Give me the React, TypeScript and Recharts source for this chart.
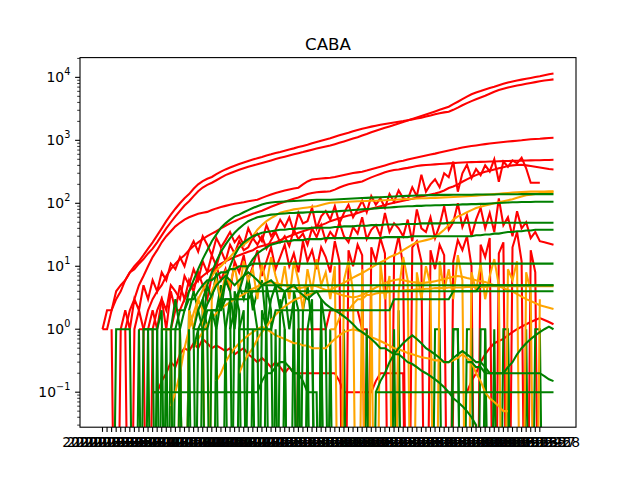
import { LineChart, Line, XAxis, YAxis } from "recharts";

const _ = null;

// one category per day, the axis only labels the first 97
const firstDay = Date.UTC(2020, 2, 24);
const dates = Array.from({ length: 100 }, (unused, i) =>
  new Date(firstDay + i * 86400000).toISOString().slice(0, 10)
);
const tickDates = dates.slice(0, 97);

const majorTicks = [0.1, 1, 10, 100, 1000, 10000];
const minorTicks = [
  0.03, 0.04, 0.05, 0.06, 0.07, 0.08, 0.09,
  0.2, 0.3, 0.4, 0.5, 0.6, 0.7, 0.8, 0.9,
  2, 3, 4, 5, 6, 7, 8, 9,
  20, 30, 40, 50, 60, 70, 80, 90,
  200, 300, 400, 500, 600, 700, 800, 900,
  2000, 3000, 4000, 5000, 6000, 7000, 8000, 9000, 20000,
];

const redCumA = [
  1, 1, 2, 4, 5, 6, 8, 9, 11, 13,
  16, 19, 24, 31, 40, 50, 62, 76, 92, 108,
  130, 155, 178, 196, 212, 232, 255, 280, 300, 320,
  340, 360, 380, 398, 416, 436, 458, 480, 505, 528,
  550, 575, 600, 625, 650, 680, 710, 740, 770, 800,
  830, 870, 915, 960, 1010, 1065, 1120, 1190, 1260, 1340,
  1420, 1500, 1580, 1660, 1750, 1850, 1950, 2060, 2180, 2300,
  2430, 2570, 2720, 2880, 3050, 3230, 3420, 3750, 4100, 4500,
  4950, 5400, 5750, 6050, 6400, 6750, 7100, 7500, 7900, 8300,
  8600, 8900, 9200, 9500, 9800, 10100, 10400, 10800, 11200, 11500,
];
const redCumB = [
  1, 2, 2, 3, 4, 6, 8, 10, 12, 15,
  19, 24, 31, 40, 52, 66, 82, 100, 120, 140,
  170, 200, 225, 245, 262, 290, 318, 345, 370, 395,
  420, 445, 470, 495, 520, 545, 575, 600, 630, 655,
  685, 715, 745, 780, 815, 850, 895, 940, 985, 1030,
  1080, 1140, 1200, 1260, 1320, 1390, 1460, 1530, 1590, 1650,
  1710, 1770, 1820, 1870, 1920, 1970, 2020, 2080, 2150, 2220,
  2280, 2380, 2480, 2600, 2700, 2780, 2850, 3050, 3300, 3600,
  3900, 4200, 4500, 4800, 5100, 5500, 5900, 6300, 6600, 6900,
  7150, 7400, 7650, 7900, 8150, 8400, 8650, 8900, 9100, 9300,
];
const redCumC = [
  _, _, _, _, _, 1, 2, 3, 5, 7,
  10, 14, 18, 24, 30, 36, 43, 49, 55, 60,
  64, 68, 71, 73, 78, 83, 87, 91, 95, 98,
  101, 104, 108, 111, 114, 122, 130, 138, 146, 153,
  160, 166, 172, 177, 200, 222, 238, 243, 247, 251,
  255, 262, 272, 282, 292, 302, 310, 318, 332, 348,
  365, 382, 400, 420, 440, 460, 475, 495, 515, 535,
  555, 575, 595, 615, 640, 665, 690, 715, 740, 770,
  790, 810, 830, 850, 870, 890, 908, 925, 940, 955,
  970, 985, 1000, 1020, 1040, 1050, 1060, 1075, 1090, 1100,
];
const redCumD = [
  _, _, _, _, _, _, _, _, 1, 1,
  2, 3, 4, 5, 7, 9, 11, 13, 15, 18,
  21, 24, 27, 30, 33, 36, 40, 44, 48, 52,
  56, 60, 64, 68, 72, 76, 82, 88, 94, 100,
  106, 112, 118, 124, 132, 140, 146, 150, 152, 153,
  155, 165, 178, 190, 200, 208, 215, 222, 240, 258,
  275, 292, 310, 325, 338, 345, 355, 365, 378, 390,
  400, 405, 410, 415, 420, 425, 430, 435, 440, 445,
  448, 450, 452, 455, 458, 460, 462, 465, 468, 470,
  472, 474, 476, 478, 480, 482, 484, 486, 488, 490,
];
const redRise = [
  _, _, _, _, _, _, _, _, _, _,
  _, _, _, _, 1, 1, 2, 2, 3, 4,
  5, 6, 7, 8, 9, 10, 11, 12, 13, 14,
  15, 16, 17, 18, 20, 21, 22, 23, 24, 26,
  28, 30, 32, 34, 36, 38, 40, 42, 45, 48,
  52, 55, 58, 61, 64, 66, 70, 74, 78, 82,
  86, 90, 94, 98, 102, 106, 110, 114, 118, 123,
  128, 133, 138, 143, 150, 160, 175, 185, 200, 220,
  240, 260, 280, 300, 318, 330, 345, 360, 375, 390,
  400, 405, 410, 400, 390, 380, 370, 360, 350, 345,
];
const redDailyA = [
  _, _, 1, 0, 1, 2, 1, 3, 2, 5,
  3, 6, 4, 8, 6, 11, 9, 14, 10, 18,
  25, 17, 30, 22, 15, 28, 20, 26, 35, 24,
  30, 22, 40, 28, 33, 25, 45, 30, 38, 55,
  42, 60, 35, 70, 48, 52, 85, 40, 62, 75,
  55, 90, 48, 70, 95, 60, 80, 110, 72, 130,
  95, 120, 85, 140, 105, 160, 120, 115, 180, 130,
  285, 153, 200, 240, 180, 300, 260, 460, 153, 300,
  410, 250, 350, 280, 400, 320, 500, 220, 460, 380,
  480, 430, 530, 360, 212, 212, 212, _, _, _,
];
const redDailyB = [
  _, _, _, _, _, _, _, _, _, _,
  1, 2, 1, 3, 2, 5, 4, 3, 7, 5,
  9, 6, 12, 8, 15, 10, 18, 12, 22, 16,
  25, 18, 20, 28, 22, 30, 19, 26, 35, 24,
  30, 21, 38, 27, 33, 22, 40, 29, 45, 25,
  35, 28, 50, 30, 24, 42, 33, 60, 27, 38,
  45, 30, 70, 35, 48, 40, 30, 55, 25, 80,
  40, 35, 60, 28, 45, 90, 38, 50, 100, 42,
  65, 30, 55, 85, 40, 70, 35, 120, 45, 60,
  30, 75, 40, 50, 28, 35, 25, 24, 23, 22,
];
const redDailyC = [
  _, _, _, _, _, 1, 0, 1, 2, 1,
  0, 1, 2, 3, 1, 4, 2, 5, 3, 6,
  4, 8, 5, 3, 7, 10, 6, 9, 4, 12,
  8, 15, 6, 10, 18, 7, 12, 20, 9, 14,
  22, 10, 16, 8, 25, 12, 18, 9, 20, 14,
  8, 25, 12, 0, 18, 10, 22, 15, 0, 20,
  12, 28, 16, 0, 14, 30, 10, 0, 20, 25,
  12, 0, 18, 9, 22, 15, 0, 12, 26, 18,
  30, 10, 0, 22, 14, 28, 0, 16, 24, 0,
  20, 35, 12, 0, 18, 8, 0, _, _, _,
];
const redLowA = [
  _, _, _, _, _, _, _, _, _, _,
  _, 0.1, 0.1, 0.15, 0.2, 0.3, 0.25, 0.4, 0.5, 0.45,
  0.6, 0.5, 0.7, 0.6, 0.5, 0.55, 0.5, 0.45, 0.5, 0.4,
  0.45, 0.5, 0.4, 0.35, 0.3, 0.35, 0.3, 0.25, 0.3, 0.25,
  0.2, 0.25, 0.2, 0.2, 0.2, 0.2, 0.2, 0.2, 0.2, 0.2,
  0.2, 0.2, 0.15, 0.1, 0.1, 0.1, 0.1, 0.1, 0.1, 0.1,
  0.15, 0.2, 0.2, 0.2, 0.2, 0.2, 0.2, 0, 0, 0,
  0, 0, 0, 0, 0, 0, 0, 0.1, 0.1, 0.1,
  0.1, 0.15, 0.2, 0.3, 0.4, 0.5, 0.6, 0.65, 0.7, 0.8,
  0.9, 1.0, 1.1, 1.2, 1.3, 1.4, 1.5, 1.4, 1.3, 1.2,
];
const redLowB = [
  _, _, _, _, _, _, _, _, _, _,
  _, _, _, _, _, _, _, _, _, _,
  _, _, _, _, _, _, _, _, _, _,
  _, _, _, _, _, _, _, _, _, _,
  _, _, 0, 1, 1, 1, 1, 1, 1, 1,
  2, 2, 2, 2, 2, 2, 2, 1, 1, 0,
  0, _, _, _, _, _, _, _, _, _,
  _, _, _, _, _, _, _, _, _, _,
  _, _, _, _, _, _, _, _, _, _,
  _, _, _, _, _, _, _, _, _, _,
];

const orangeCumA = [
  _, _, _, _, _, _, _, _, _, _,
  _, _, _, _, _, 0.06, 0.1, 0.2, 0.5, 1,
  1.8, 3, 4.2, 5.5, 7, 8.7, 10, 12, 14, 17,
  20, 22, 25, 30, 38, 45, 52, 58, 64, 71,
  74, 77, 80, 82, 84, 86, 88, 90, 94, 98,
  102, 103, 104, 105, 106, 107, 108, 108, 109, 110,
  110, 111, 112, 113, 114, 115, 116, 117, 118, 119,
  120, 120, 121, 122, 123, 124, 125, 126, 127, 128,
  130, 131, 132, 134, 136, 138, 140, 142, 144, 146,
  148, 150, 151, 152, 153, 153, 154, 154, 155, 155,
];
const orangeCumB = [
  _, _, _, _, _, _, _, _, _, _,
  _, _, _, _, _, _, _, _, _, _,
  _, _, _, _, _, _, _, _, _, _,
  0.2, 0.3, 0.4, 0.5, 0.7, 0.9, 1.1, 1.4, 1.7, 2,
  2.3, 2.6, 2.9, 3.1, 3.3, 3.5, 3.7, 3.9, 4.0, 4.1,
  4.2, 4.6, 5.0, 5.5, 6.0, 6.6, 7.2, 7.8, 8.6, 9.5,
  10.5, 11.5, 12.5, 14, 15, 16, 18, 20, 22, 24,
  25, 26, 27, 29, 33, 38, 45, 55, 62, 66,
  72, 78, 84, 88, 92, 96, 100, 104, 108, 112,
  116, 122, 128, 134, 137, 140, 145, 148, 150, 152,
];
const orangeCumC = [
  _, _, _, _, _, _, _, _, _, _,
  _, _, _, _, _, _, _, _, _, _,
  _, _, _, _, _, _, _, _, _, _,
  _, _, _, _, _, _, _, _, _, _,
  _, _, _, _, _, _, _, _, _, _,
  1, 1, 1.5, 2, 2, 2.5, 3, 3, 3.5, 3.5,
  3.7, 3.8, 3.8, 3.9, 4, 4, 4.1, 4.2, 4.2, 4.3,
  4.3, 4.4, 4.4, 4.5, 4.5, 4.5, 4.6, 4.6, 4.6, 4.6,
  4.7, 4.7, 4.7, 4.7, 4.7, 4.8, 4.8, 4.8, 4.8, 4.8,
  4.8, 4.8, 4.8, 4.8, 4.8, 4.8, 4.8, 4.8, 4.8, 4.8,
];
const orangeDaily = [
  _, _, _, _, _, _, _, _, _, _,
  _, _, _, 1, 1, 1, 0, 1, 0, 2,
  1, 3, 2, 0, 4, 6, 3, 8, 5, 10,
  4, 12, 6, 9, 3, 11, 5, 14, 7, 4,
  10, 3, 12, 6, 2, 9, 4, 13, 5, 8,
  3, 10, 0, 6, 12, 4, 0, 9, 0, 5,
  0, 11, 3, 7, 0, 4, 14, 6, 0, 8,
  3, 10, 5, 0, 12, 4, 9, 3, 15, 6,
  0, 8, 4, 11, 3, 7, 13, 5, 0, 9,
  6, 12, 0, 8, 4, 0, 3, _, _, _,
];
const orangeAvgA = [
  _, _, _, _, _, _, _, _, _, _,
  _, _, _, _, _, _, _, _, _, _,
  0.5, 0.7, 0.9, 1.2, 1.5, 1.8, 2.1, 2.4, 2.7, 3,
  3.3, 3.6, 4, 4.4, 4.8, 5.2, 5.5, 5.6, 5.4, 5.2,
  5, 4.8, 4.6, 4.5, 4.6, 4.8, 5, 4.8, 4.5, 4.2,
  4, 3.8, 3.6, 3.4, 3.3, 3.2, 3.3, 3.5, 3.8, 4.2,
  4.6, 5, 5.4, 5.8, 6, 6.2, 6, 5.8, 5.6, 5.5,
  5.4, 5.5, 5.6, 5.8, 6, 6.3, 6.5, 6.8, 7, 6.8,
  6.5, 6.3, 6, 5.8, 5.6, 5.3, 5, 4.8, 4.5, 4.2,
  4, 3.6, 3.3, 3, 2.8, 2.6, 2.4, 2.3, 2.2, 2.1,
];
const orangeAvgB = [
  _, _, _, _, _, _, _, _, _, _,
  _, _, _, _, _, _, _, _, _, _,
  _, _, _, _, _, 0.15, 0.2, 0.3, 0.4, 0.5,
  0.6, 0.7, 0.8, 0.9, 1, 1.1, 1.0, 0.9, 0.8, 0.75,
  0.7, 0.65, 0.6, 0.6, 0.55, 0.55, 0.5, 0.5, 0.5, 0.5,
  0.6, 0.7, 0.8, 0.9, 0.95, 1, 0.95, 0.9, 0.8, 0.75,
  0.7, 0.65, 0.6, 0.55, 0.5, 0.48, 0.45, 0.42, 0.4, 0.38,
  0.36, 0.35, 0.34, 0.32, 0.32, 0.3, 0.3, 0.32, 0.35, 0.4,
  0.35, 0.3, 0.2, 0.15, 0.1, 0.08, 0.07, 0.06, 0.05, 0.05,
  _, _, _, _, _, _, _, _, _, _,
];

const greenCumA = [
  _, _, _, _, _, _, _, _, _, _,
  _, _, _, _, _, _, _, 1, 2, 4,
  6, 9, 13, 18, 25, 32, 41, 48, 55, 62,
  66, 72, 78, 84, 90, 96, 100, 103, 105, 106,
  107, 108, 109, 110, 111, 112, 113, 114, 114, 114,
  114, 115, 116, 117, 118, 119, 120, 121, 122, 123,
  124, 125, 126, 127, 128, 129, 130, 131, 132, 133,
  134, 134, 135, 135, 136, 136, 136, 137, 137, 137,
  137, 137, 138, 138, 138, 138, 138, 139, 139, 139,
  139, 139, 140, 140, 140, 140, 140, 140, 140, 140,
];
const greenCumB = [
  _, _, _, _, _, _, _, _, _, _,
  _, _, _, _, _, _, _, _, _, _,
  1, 2, 3, 5, 8, 12, 17, 22, 28, 34,
  40, 46, 52, 56, 60, 62, 64, 66, 67, 68,
  69, 70, 70, 71, 71, 72, 72, 73, 73, 73,
  73, 74, 75, 76, 77, 78, 79, 80, 81, 82,
  83, 84, 85, 86, 87, 88, 89, 90, 90, 91,
  91, 92, 92, 93, 93, 94, 94, 95, 95, 96,
  96, 97, 97, 98, 98, 99, 100, 101, 102, 103,
  104, 104, 105, 105, 105, 106, 106, 106, 106, 106,
];
const greenCumC = [
  _, _, _, _, _, _, _, _, _, _,
  _, _, _, _, _, _, _, _, _, _,
  _, _, _, _, _, 1, 3, 6, 10, 15,
  20, 24, 27, 30, 32, 34, 35, 36, 37, 38,
  38, 39, 39, 40, 40, 40, 41, 41, 41, 41,
  41, 42, 42, 43, 43, 43, 44, 44, 44, 45,
  45, 45, 46, 46, 46, 46, 47, 47, 47, 47,
  48, 48, 48, 48, 48, 48, 49, 49, 49, 49,
  49, 49, 49, 49, 49, 49, 49, 49, 49, 49,
  49, 49, 49, 49, 49, 49, 49, 49, 49, 49,
];
const greenCumD = [
  _, _, _, _, _, _, _, _, _, _,
  _, _, _, _, _, _, _, _, _, _,
  _, _, _, _, _, _, _, _, 1, 2,
  4, 7, 10, 13, 16, 18, 20, 22, 23, 24,
  25, 25, 26, 26, 26, 27, 27, 27, 27, 28,
  28, 28, 28, 28, 28, 28, 28, 28, 28, 28,
  28, 28, 29, 29, 29, 29, 29, 29, 30, 30,
  30, 30, 30, 30, 30, 30, 30, 30, 30, 30,
  30, 30, 31, 31, 32, 32, 33, 33, 34, 35,
  35, 36, 36, 37, 37, 38, 38, 38, 38, 38,
];
const greenCumE = [
  _, _, _, _, _, _, _, _, _, _,
  _, _, _, _, _, 1, 1, 2, 2, 3,
  3, 4, 5, 6, 6, 7, 8, 8, 9, 9,
  10, 10, 10, 11, 11, 11, 11, 11, 11, 11,
  11, 11, 11, 11, 11, 11, 11, 11, 11, 11,
  11, 11, 11, 11, 11, 11, 11, 11, 11, 11,
  11, 11, 11, 11, 11, 11, 11, 11, 11, 11,
  11, 11, 11, 11, 11, 11, 11, 11, 11, 11,
  11, 11, 11, 11, 11, 11, 11, 11, 11, 11,
  11, 11, 11, 11, 11, 11, 11, 11, 11, 11,
];
const greenCumF = [
  _, _, _, _, _, _, _, _, _, _,
  _, _, _, _, _, _, _, _, _, _,
  1, 1, 1, 2, 2, 2, 3, 3, 3, 3,
  4, 4, 4, 4, 4, 5, 5, 5, 5, 5,
  5, 5, 5, 5, 5, 5, 5, 5, 5, 5,
  5, 5, 5, 5, 5, 5, 5, 5, 5, 5,
  5, 5, 5, 5, 5, 5, 5, 5, 5, 5,
  5, 5, 5, 5, 5, 5, 5, 5, 5, 5,
  5, 5, 5, 5, 5, 5, 5, 5, 5, 5,
  5, 5, 5, 5, 5, 5, 5, 5, 5, 5,
];
const greenCumG = [
  _, _, _, _, _, _, _, _, _, _,
  _, _, _, _, _, _, _, _, _, _,
  _, _, 1, 1, 2, 2, 2, 3, 3, 3,
  3, 3, 3, 4, 4, 4, 4, 4, 4, 4,
  4, 4, 4, 4, 4, 4, 4, 4, 4, 4,
  4, 4, 4, 4, 4, 4, 4, 4, 4, 4,
  4, 4, 4, 4, 4, 4, 4, 4, 4, 4,
  4, 4, 4, 4, 4, 4, 4, 4, 4, 4,
  4, 4, 4, 5, 5, 5, 5, 5, 5, 5,
  5, 5, 5, 5, 5, 5, 5, 5, 5, 5,
];
const greenCumH = [
  _, _, _, _, _, _, _, _, _, _,
  _, _, _, _, _, _, _, _, _, _,
  _, _, _, _, _, _, _, _, _, _,
  1, 1, 1, 1, 1, 1, 1, 1, 2, 2,
  2, 2, 2, 2, 2, 2, 2, 2, 2, 2,
  2, 2, 2, 2, 2, 2, 2, 2, 2, 2,
  2, 2, 2, 2, 3, 3, 3, 3, 3, 3,
  3, 3, 3, 3, 3, 3, 3, 4, 4, 4,
  4, 4, 4, 4, 4, 4, 4, 4, 4, 4,
  4, 4, 4, 4, 4, 4, 4, 4, 4, 4,
];
const greenAvgA = [
  _, _, _, _, _, _, _, _, _, _,
  _, _, _, _, _, _, _, _, _, _,
  0.5, 1, 1.5, 2.5, 3.5, 5, 6, 7, 6, 5,
  6, 7, 8, 7, 6, 5, 5.5, 6, 5, 4.5,
  4, 4.5, 5, 4, 3.5, 3, 3.5, 4, 3, 2.5,
  2.2, 2, 1.8, 1.6, 1.4, 1.2, 1, 0.9, 0.8, 0.7,
  0.6, 0.5, 0.5, 0.45, 0.4, 0.4, 0.35, 0.3, 0.28, 0.25,
  0.22, 0.2, 0.18, 0.16, 0.14, 0.12, 0.1, 0.08, 0.07, 0.06,
  0.05, 0.04, 0.03, 0, _, _, _, _, _, _,
  _, _, _, _, _, _, _, _, _, _,
];
const greenDailyA = [
  _, _, 0, 1, 1, 1, 1, 0, 0, 1,
  1, 1, 1, 0, 1, 0, 1, 1, 0, 2,
  1, 0, 3, 1, 0, 2, 5, 1, 0, 4,
  2, 0, 6, 3, 1, 0, 5, 2, 0, 3,
  1, 0, 4, 2, 0, 1, 3, 0, 2, 0,
  1, 0, 0, 0, 0, 0, 0, 0, 1, 0,
  0, 0, 0, 0, 1, 0, 0, 0, 0, 0,
  0, 0, 0, 1, 1, 0, 0, 1, 1, 0,
  1, 1, 0, 1, 1, 0, 1, 0, 1, 1,
  0, 0, 0, 1, 0, 0, 0, _, _, _,
];
const greenDailyB = [
  _, _, _, _, _, _, _, 0, 1, 0,
  1, 0, 1, 2, 0, 1, 3, 1, 0, 2,
  4, 2, 1, 5, 3, 8, 2, 6, 4, 1,
  5, 3, 7, 2, 4, 6, 1, 3, 5, 2,
  4, 1, 3, 0, 2, 5, 1, 0, 3, 1,
  0, 0, 0, 1, 0, 0, 0, 0, 0, 0,
  0, 0, 0, 0, 0, 2, 0, 0, 0, 0,
  0, 0, 0, 0, 0, 0, 0, 1, 1, 0,
  0, 0, 0, 0, 1, 0, 0, 0, 0, 1,
  0, 0, 0, 0, 0, 1, 1, 0, _, _,
];
const greenDailyC = [
  _, _, _, _, _, _, _, _, _, 1,
  1, 1, 0, 1, 1, 1, 0, 1, 0, 1,
  0, 1, 1, 0, 2, 1, 0, 1, 3, 0,
  1, 2, 0, 1, 0, 2, 1, 0, 1, 0,
  1, 0, 0, 1, 0, 1, 0, 0, 1, 0,
  0, _, _, _, _, _, _, _, _, _,
  _, _, _, _, _, _, _, _, _, _,
  _, _, _, _, _, _, _, _, _, _,
  _, _, _, _, _, _, _, _, _, _,
  _, _, _, _, _, _, _, _, _, _,
];
const greenLowA = [
  _, _, _, _, _, _, _, _, _, _,
  _, 0.1, 0.1, 0.1, 0.1, 0.1, 0.1, 0.1, 0.1, 0.1,
  0.1, 0.1, 0.1, 0.1, 0.1, 0.1, 0.1, 0.1, 0.1, 0.1,
  0.1, 0.1, 0.1, 0.1, 0.1, 0.15, 0.2, 0.2, 0.25, 0.3,
  0.3, 0.25, 0.2, 0.2, 0.15, 0.1, 0.1, 0.1, 0, 0,
  0, 0, 0, 0, 0, 0, 0, 0, 0, 0,
  0.1, 0.1, 0.1, 0.1, 0.1, 0.1, 0.1, 0.1, 0.1, 0.1,
  0.1, 0.1, 0.1, 0.1, 0.1, 0.1, 0.1, 0.1, 0.1, 0.1,
  0.1, 0.1, 0.1, 0.1, 0.1, 0.1, 0.1, 0.1, 0.1, 0.1,
  0.1, 0.1, 0.1, 0.1, 0.1, 0.1, 0.1, 0.1, 0.1, 0.1,
];
const greenLowB = [
  _, _, _, _, _, _, _, _, _, _,
  _, _, _, _, _, _, _, _, _, _,
  _, _, _, _, _, _, _, _, _, _,
  _, _, _, _, _, _, _, _, _, _,
  _, _, _, _, _, _, _, _, _, _,
  _, _, _, _, _, _, _, _, _, _,
  0.1, 0.15, 0.2, 0.3, 0.4, 0.5, 0.6, 0.7, 0.8, 0.7,
  0.6, 0.5, 0.45, 0.4, 0.35, 0.3, 0.3, 0.35, 0.4, 0.45,
  0.4, 0.35, 0.3, 0.3, 0.25, 0.2, 0.2, 0.2, 0.2, 0.25,
  0.3, 0.4, 0.5, 0.6, 0.7, 0.8, 0.9, 1.0, 1.1, 1.0,
];
const greenLowC = [
  _, _, _, _, _, _, _, _, _, _,
  _, _, _, _, _, _, _, _, _, _,
  _, _, _, _, _, _, _, _, _, _,
  _, _, _, _, _, _, _, _, _, _,
  _, _, _, _, _, _, _, _, _, _,
  _, _, _, _, _, _, _, _, _, _,
  _, _, _, _, _, _, _, _, _, _,
  _, _, _, _, _, _, _, _, _, _,
  0.3, 0.3, 0.25, 0.25, 0.2, 0.2, 0.2, 0.2, 0.2, 0.2,
  0.2, 0.2, 0.2, 0.2, 0.2, 0.2, 0.2, 0.18, 0.16, 0.15,
];

const RED = "#ff0000";
const ORANGE = "#ffa500";
const GREEN = "#008000";

const series = [
  { key: "redCumA", color: RED, values: redCumA },
  { key: "redCumB", color: RED, values: redCumB },
  { key: "redCumC", color: RED, values: redCumC },
  { key: "redCumD", color: RED, values: redCumD },
  { key: "redRise", color: RED, values: redRise },
  { key: "redDailyA", color: RED, values: redDailyA },
  { key: "redDailyB", color: RED, values: redDailyB },
  { key: "redDailyC", color: RED, values: redDailyC },
  { key: "redLowA", color: RED, values: redLowA },
  { key: "redLowB", color: RED, values: redLowB },
  { key: "greenDailyA", color: GREEN, values: greenDailyA },
  { key: "greenDailyB", color: GREEN, values: greenDailyB },
  { key: "orangeCumA", color: ORANGE, values: orangeCumA },
  { key: "orangeCumB", color: ORANGE, values: orangeCumB },
  { key: "orangeCumC", color: ORANGE, values: orangeCumC },
  { key: "orangeDaily", color: ORANGE, values: orangeDaily },
  { key: "orangeAvgA", color: ORANGE, values: orangeAvgA },
  { key: "orangeAvgB", color: ORANGE, values: orangeAvgB },
  { key: "greenDailyC", color: GREEN, values: greenDailyC },
  { key: "greenCumA", color: GREEN, values: greenCumA },
  { key: "greenCumB", color: GREEN, values: greenCumB },
  { key: "greenCumC", color: GREEN, values: greenCumC },
  { key: "greenCumD", color: GREEN, values: greenCumD },
  { key: "greenCumE", color: GREEN, values: greenCumE },
  { key: "greenCumF", color: GREEN, values: greenCumF },
  { key: "greenCumG", color: GREEN, values: greenCumG },
  { key: "greenCumH", color: GREEN, values: greenCumH },
  { key: "greenAvgA", color: GREEN, values: greenAvgA },
  { key: "greenLowA", color: GREEN, values: greenLowA },
  { key: "greenLowB", color: GREEN, values: greenLowB },
  { key: "greenLowC", color: GREEN, values: greenLowC },
];

// zeros can't sit on a log axis: push them far below the frame so the line drops off the bottom
const FLOOR = 1e-6;

const data = dates.map((date, i) => {
  const row: Record<string, string | number | null> = { date };
  series.forEach((s) => {
    const v = s.values[i];
    row[s.key] = v == null ? null : v <= 0 ? FLOOR : v;
  });
  return row;
});

const FONT = "DejaVu Sans, sans-serif";

function XTick({ x, y, payload }: any) {
  return (
    <g>
      <line x1={x} x2={x} y1={y} y2={y + 4.9} stroke="#000" strokeWidth={1.1} />
      <text x={x} y={y + 20} textAnchor="middle" fontSize={13.9} fontFamily={FONT} fill="#000">
        {payload.value}
      </text>
    </g>
  );
}

function YTick({ x, y, payload }: any) {
  const v = payload.value;
  const exp = Math.round(Math.log10(v));
  const major = majorTicks.includes(v);
  if (!major) {
    return <line x1={x - 2.8} x2={x} y1={y} y2={y} stroke="#000" strokeWidth={0.8} />;
  }
  return (
    <g>
      <line x1={x - 4.9} x2={x} y1={y} y2={y} stroke="#000" strokeWidth={1.1} />
      <text x={x - 9.7} y={y + 5} textAnchor="end" fontFamily={FONT} fill="#000" fontSize={13.9}>
        10
        <tspan dy={-7} fontSize={9.7}>
          {exp < 0 ? "\u2212" + Math.abs(exp) : String(exp)}
        </tspan>
      </text>
    </g>
  );
}

export default function App() {
  return (
    <div style={{ position: "absolute", left: 0, top: 0, width: 640, height: 480, background: "#fff" }}>
      <LineChart width={640} height={480} data={data} margin={{ top: 58, right: 64, bottom: 0, left: 0 }}>
        <XAxis
          dataKey="date"
          ticks={tickDates}
          interval={0}
          height={53}
          padding={{ left: 22.5, right: 22.5 }}
          axisLine={false}
          tickLine={false}
          tickSize={0}
          tickMargin={0}
          tick={<XTick />}
        />
        <YAxis
          scale="log"
          type="number"
          domain={[0.028, 20300]}
          allowDataOverflow
          ticks={[...majorTicks, ...minorTicks]}
          interval={0}
          width={80}
          axisLine={false}
          tickLine={false}
          tickSize={0}
          tickMargin={0}
          tick={<YTick />}
        />
        {series.map((s) => (
          <Line
            key={s.key}
            dataKey={s.key}
            stroke={s.color}
            strokeWidth={2.08}
            dot={false}
            activeDot={false}
            type="linear"
            isAnimationActive={false}
          />
        ))}
      </LineChart>
      <svg width={640} height={480} style={{ position: "absolute", left: 0, top: 0, pointerEvents: "none" }}>
        <rect x={80} y={57.6} width={496} height={369.6} fill="none" stroke="#000" strokeWidth={1.1} />
        <text x={328} y={50} textAnchor="middle" fontSize={16.7} fontFamily={FONT} fill="#000">
          CABA
        </text>
      </svg>
    </div>
  );
}
